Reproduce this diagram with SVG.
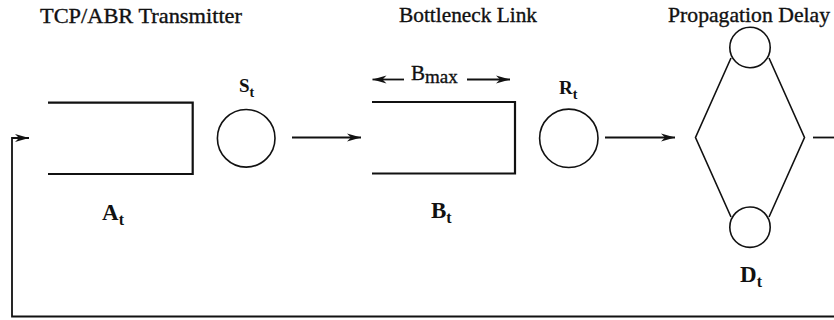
<svg xmlns="http://www.w3.org/2000/svg" width="834" height="320" viewBox="0 0 834 320">
<style>
text{font-family:"Liberation Serif","Times New Roman",Times,serif;fill:#111}
.title{stroke:#111;stroke-width:0.35}
.lbl{font-weight:bold}
.box{fill:none;stroke:#111;stroke-width:2.2}
.node{fill:#fff;stroke:#111;stroke-width:1.6}
.thin{fill:none;stroke:#111;stroke-width:1.6}
.conn{fill:none;stroke:#111;stroke-width:1.8}
</style>
<defs>
<marker id="ah" markerUnits="userSpaceOnUse" markerWidth="16" markerHeight="10" refX="14" refY="5" orient="auto-start-reverse" viewBox="0 0 16 10">
<path d="M0,1 L14,5 L0,9 L4,5 Z" fill="#111"/>
</marker>
</defs>
<rect width="834" height="320" fill="#fff"/>

<g id="titles">
<text class="title" font-family="Liberation Serif, serif" font-size="21" x="40" y="22.5" textLength="202" lengthAdjust="spacingAndGlyphs">TCP/ABR Transmitter</text>
<text class="title" font-family="Liberation Serif, serif" font-size="21" x="399" y="22" textLength="138" lengthAdjust="spacingAndGlyphs">Bottleneck Link</text>
<text class="title" font-family="Liberation Serif, serif" font-size="21" x="668" y="22" textLength="162" lengthAdjust="spacingAndGlyphs">Propagation Delay</text>
</g>

<g id="queueA">
<path class="box" d="M48,102.7 H192.7 V174 H48"/>
<text class="lbl" font-family="Liberation Serif, serif" x="102" y="219.5" font-size="23">A<tspan font-size="16" dy="5.5">t</tspan></text>
</g>

<g id="serverS">
<circle class="node" cx="246.2" cy="138.3" r="28.8"/>
<text class="lbl" font-family="Liberation Serif, serif" x="239" y="92" font-size="19">S<tspan font-size="14" dy="5">t</tspan></text>
</g>

<g id="queueB">
<path class="box" d="M372,102 H515 V173.5 H372"/>
<text class="lbl" font-family="Liberation Serif, serif" x="431" y="217.5" font-size="23">B<tspan font-size="16" dy="5.5">t</tspan></text>
<text class="title" font-family="Liberation Serif, serif" x="411" y="80" font-size="21">B<tspan font-size="19" dy="3">max</tspan></text>
</g>

<g id="serverR">
<circle class="node" cx="568.8" cy="138.3" r="29.2"/>
<text class="lbl" font-family="Liberation Serif, serif" x="559" y="94" font-size="19">R<tspan font-size="14" dy="5">t</tspan></text>
</g>

<g id="delay">
<path class="thin" d="M731,58 L695.5,137.5 L731,217"/>
<path class="thin" d="M769,58 L804.5,137.5 L769,217"/>
<circle class="node" cx="750" cy="47.5" r="20.2"/>
<circle class="node" cx="750" cy="227.2" r="20.2"/>
<text class="lbl" font-family="Liberation Serif, serif" x="740" y="281.5" font-size="23">D<tspan font-size="16" dy="5">t</tspan></text>
</g>

<g id="connectors">
<path class="conn" d="M292,137.5 H361" marker-end="url(#ah)"/>
<path class="conn" d="M605,137.5 H675" marker-end="url(#ah)"/>
<path class="conn" d="M813,137.5 H834"/>
<path class="conn" d="M834,316.5 H12 V138 H29" stroke-width="2.4" marker-end="url(#ah)"/>
<path class="conn" d="M404,79.5 H372.5" stroke-width="1.5" marker-end="url(#ah)"/>
<path class="conn" d="M467,79.5 H510" stroke-width="1.5" marker-end="url(#ah)"/>
</g>
</svg>
